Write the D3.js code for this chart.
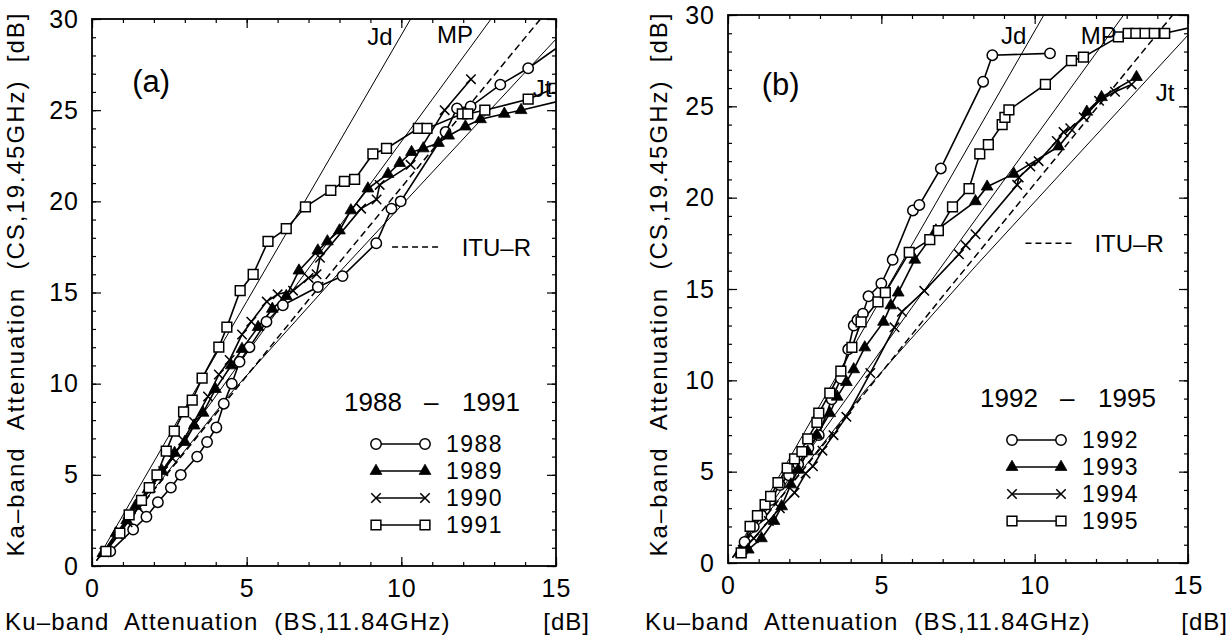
<!DOCTYPE html>
<html>
<head>
<meta charset="utf-8">
<script src="https://cdn.jsdelivr.net/npm/d3@7"></script>
<style>
  body { margin: 0; background: #fff; }
  svg { font-family: "Liberation Sans", Arial, sans-serif; }
</style>
</head>
<body>
<svg id="chart" width="1231" height="637"></svg>
<script>
// tick values
const xMajor = [0, 5, 10, 15];
const yMajor = [0, 5, 10, 15, 20, 25, 30];

// model lines
const jdLine  = [[0.15, 0.3], [5, 14.5], [10.3, 30]];
const mpLine  = [[0.15, 0.3], [6, 14.0], [12.9, 30]];
const ituLine = [[0.15, 0.3], [7, 14.6], [14.5, 30]];
const jtLine  = [[0.15, 0.3], [4.5, 9.5], [8.1, 16.3], [15, 28.9]];

// panel (a) 1988 - 1991
const s1988 = [[0.59,0.8],[1.33,2.0],[1.76,2.7],[2.13,3.5],[2.55,4.3],[2.87,5.0],[3.4,6.0],[3.72,6.8],[4.02,7.6],[4.26,8.9],[4.52,10.0],[4.77,11.2],[5.09,12.0],[5.64,13.4],[6.17,14.3],[7.3,15.3],[8.1,15.9],[9.19,17.7],[9.68,19.6],[9.98,20.0],[11.43,23.8],[11.8,25.1],[12.24,25.2],[13.2,26.4],[14.1,27.3],[15.6,29.1]];
const s1989 = [[0.35,0.7],[0.78,1.8],[1.12,2.5],[1.41,3.3],[1.81,4.2],[2.27,5.2],[2.67,6.2],[3.0,6.8],[3.3,7.7],[3.59,8.4],[3.99,9.7],[4.5,11.0],[4.85,11.9],[5.37,13.1],[5.83,14.1],[6.28,14.8],[6.69,16.2],[7.3,17.3],[7.61,17.8],[8.0,18.4],[8.37,19.5],[8.92,20.7],[9.57,21.5],[9.95,22.1],[10.33,22.7],[10.71,22.9],[11.2,23.2],[11.53,23.6],[12.07,24.1],[12.56,24.5],[13.33,24.8],[13.87,25.0],[15.6,25.7]];
const s1990 = [[0.4,0.75],[0.85,1.7],[1.15,2.4],[1.5,3.2],[1.9,4.3],[2.3,5.2],[2.6,5.9],[2.95,6.9],[3.3,7.9],[3.75,9.3],[4.1,10.5],[4.45,11.3],[4.85,12.7],[5.15,13.4],[5.65,14.5],[6.0,14.9],[6.5,15.1],[7.0,15.8],[7.26,16.0],[7.37,16.9],[8.7,19.6],[9.2,20.1],[9.3,20.9],[10.3,22.0],[11.4,25.0],[12.25,26.7]];
const s1991 = [[0.45,0.8],[0.9,1.8],[1.2,2.8],[1.6,3.6],[1.85,4.3],[2.1,5.0],[2.4,6.3],[2.66,7.4],[2.96,8.45],[3.24,9.1],[3.56,10.3],[4.1,12.0],[4.36,13.1],[4.79,15.1],[5.21,16.0],[5.69,17.8],[6.28,18.5],[6.9,19.7],[7.72,20.6],[8.16,21.1],[8.49,21.2],[9.08,22.6],[9.52,22.9],[10.55,24.0],[10.83,24.0],[11.97,24.8],[12.15,24.8],[12.7,25.0],[14.1,25.6],[14.95,26.2]];

// panel (b) 1992 - 1995
const s1992 = [[0.54,1.15],[0.84,1.98],[1.09,2.6],[1.39,3.44],[1.69,4.27],[1.99,4.8],[2.29,5.4],[2.62,6.3],[2.96,7.0],[3.38,8.96],[3.68,10.1],[3.92,11.7],[4.1,13.0],[4.22,13.3],[4.4,13.65],[4.58,14.6],[5.0,15.3],[5.37,16.6],[6.03,19.3],[6.24,19.6],[6.94,21.6],[8.32,26.35],[8.62,27.8],[10.5,27.9]];
const s1993 = [[0.42,0.52],[0.66,0.73],[1.09,1.35],[1.5,2.3],[1.75,3.1],[2.05,4.3],[2.29,5.1],[2.6,6.1],[2.9,7.0],[3.32,8.2],[3.56,9.1],[3.86,9.9],[4.1,10.6],[4.46,11.8],[5.07,13.2],[5.31,14.1],[5.55,14.8],[6.09,16.6],[6.78,18.2],[8.07,19.8],[8.45,20.6],[9.32,21.3],[10.78,22.8],[11.7,24.7],[12.18,25.5],[13.32,26.6]];
const s1994 = [[0.48,0.73],[0.84,1.35],[1.33,2.3],[1.69,3.0],[2.17,3.85],[2.53,4.9],[2.77,5.3],[3.08,6.15],[3.44,7.0],[3.86,8.0],[4.64,10.4],[5.43,12.9],[5.67,13.75],[6.4,14.9],[7.53,16.9],[7.75,17.4],[8.07,18.0],[9.43,20.7],[9.48,21.1],[9.86,21.7],[10.13,22.0],[10.72,23.1],[10.94,23.6],[11.16,23.8],[11.6,24.4],[12.1,25.3],[12.62,25.8],[13.16,26.2]];
const s1995 = [[0.43,0.55],[0.72,2.0],[0.96,2.6],[1.21,3.2],[1.39,3.65],[1.63,4.4],[1.93,5.2],[2.17,5.7],[2.41,6.1],[2.6,6.8],[2.9,7.7],[2.96,8.2],[3.32,9.3],[3.68,10.5],[4.04,11.8],[4.34,13.2],[4.89,14.3],[5.13,14.8],[5.91,17.0],[6.58,17.7],[6.86,18.2],[7.32,19.5],[7.86,20.5],[8.21,22.4],[8.49,22.9],[8.94,24.0],[9.03,24.4],[9.16,24.8],[10.35,26.2],[11.2,27.5],[11.59,27.7],[12.73,28.8],[13.05,29.0],[13.3,29.0],[13.6,29.0],[13.9,29.0],[14.24,29.0],[15.6,29.5]];

class AttenPanel {

  constructor(config, data) {
    this.config = {
      parent: config.parent,
      left: config.left,
      top: config.top,
      width: config.width,
      height: config.height,
      tag: config.tag || '',
      years: config.years || ['', ''],
      labels: config.labels
    }
    this.data = data;
    this.init()
  }

  init() {
    let self = this
    const c = self.config

    self.g = d3.select(c.parent).append('g')
      .attr('transform', `translate(${c.left},${c.top})`);

    self.x = d3.scaleLinear().domain([0, 15]).range([0, c.width]);
    self.y = d3.scaleLinear().domain([0, 30]).range([c.height, 0]);

    const clipId = 'clip' + c.tag.replace(/\W/g, '');
    self.g.append('clipPath').attr('id', clipId)
      .append('rect').attr('width', c.width).attr('height', c.height);
    self.plot = self.g.append('g').attr('clip-path', `url(#${clipId})`);

    self.line = d3.line().x(d => self.x(d[0])).y(d => self.y(d[1]));
  }

  render() {
    let self = this
    const c = self.config

    // ticks, all pointing inward
    const minorX = d3.range(0, 16), minorY = d3.range(0, 31);
    const axes = [
      [d3.axisBottom(self.x).tickValues(minorX).tickSize(-4).tickFormat(''), `translate(0,${c.height})`],
      [d3.axisTop(self.x).tickValues(minorX).tickSize(-4).tickFormat(''), null],
      [d3.axisLeft(self.y).tickValues(minorY).tickSize(-4).tickFormat(''), null],
      [d3.axisRight(self.y).tickValues(minorY).tickSize(-4).tickFormat(''), `translate(${c.width},0)`],
      [d3.axisBottom(self.x).tickValues(xMajor).tickSize(-9).tickPadding(13), `translate(0,${c.height})`],
      [d3.axisTop(self.x).tickValues(xMajor).tickSize(-9).tickFormat(''), null],
      [d3.axisLeft(self.y).tickValues(yMajor).tickSize(-9).tickPadding(13), null],
      [d3.axisRight(self.y).tickValues(yMajor).tickSize(-9).tickFormat(''), `translate(${c.width},0)`]
    ];
    axes.forEach(([ax, tr]) => {
      const ag = self.g.append('g').call(ax);
      if (tr) ag.attr('transform', tr);
      ag.select('.domain').remove();
      ag.selectAll('line').attr('stroke', '#000').attr('stroke-width', 1.2);
      ag.selectAll('text').attr('fill', '#000').style('font-size', '25px')
        .style('letter-spacing', '1px')
        .attr('font-family', '"Liberation Sans", Arial, sans-serif');
    });

    self.g.append('rect')
      .attr('width', c.width).attr('height', c.height)
      .attr('fill', 'none').attr('stroke', '#000').attr('stroke-width', 1.8);

    // model lines
    const models = [
      {v: jdLine, dash: null}, {v: mpLine, dash: null},
      {v: jtLine, dash: null}, {v: ituLine, dash: '7,4'}
    ];
    self.plot.selectAll('.model')
      .data(models)
      .enter().append('path')
      .attr('class', 'model')
      .attr('d', d => self.line(d.v))
      .attr('fill', 'none')
      .attr('stroke', '#000')
      .attr('stroke-width', d => d.dash ? 1.5 : 1.0)
      .attr('stroke-dasharray', d => d.dash);

    // data series
    self.data.forEach(s => {
      self.plot.append('path')
        .attr('d', self.line(s.values))
        .attr('fill', 'none')
        .attr('stroke', '#000')
        .attr('stroke-width', 1.6);
    });
    self.data.forEach(s => {
      self.plot.selectAll(null)
        .data(s.values)
        .enter().append('path')
        .attr('transform', d => `translate(${self.x(d[0])},${self.y(d[1])})`)
        .call(sel => self.marker(sel, s.symbol));
    });

    // labels on the model lines
    c.labels.forEach(l => {
      self.g.append('text')
        .attr('x', self.x(l.x)).attr('y', self.y(l.y))
        .style('font-size', l.size + 'px')
        .text(l.text);
    });

    // ITU-R key
    self.g.append('line')
      .attr('x1', self.x(9.7)).attr('x2', self.x(11.25))
      .attr('y1', self.y(17.5)).attr('y2', self.y(17.5))
      .attr('stroke', '#000').attr('stroke-width', 1.5).attr('stroke-dasharray', '6,4');
    self.g.append('text')
      .attr('x', self.x(11.95)).attr('y', self.y(17.5)).attr('dy', '0.36em')
      .style('font-size', '24px')
      .text('ITU–R');

    // year legend
    const lx = 252, ly = 392;
    self.g.append('text').attr('x', lx).attr('y', ly).style('font-size', '26px').text(c.years[0]);
    self.g.append('text').attr('x', lx + 80).attr('y', ly).style('font-size', '26px').text('–');
    self.g.append('text').attr('x', lx + 118).attr('y', ly).style('font-size', '26px').text(c.years[1]);

    const rows = self.g.selectAll('.leg')
      .data(self.data)
      .enter().append('g')
      .attr('class', 'leg')
      .attr('transform', (d, i) => `translate(0,${425 + i * 27})`);
    rows.append('line')
      .attr('x1', 284).attr('x2', 333)
      .attr('stroke', '#000').attr('stroke-width', 1.6);
    rows.each(function(d) {
      d3.select(this).selectAll(null)
        .data([284, 333])
        .enter().append('path')
        .attr('transform', v => `translate(${v},0)`)
        .call(sel => self.marker(sel, d.symbol));
    });
    rows.append('text')
      .attr('x', 354).attr('dy', '0.36em')
      .style('font-size', '23px')
      .style('letter-spacing', '1.5px')
      .text(d => d.name);
  }

  marker(sel, kind) {
    if (kind === 'circle') {
      sel.attr('d', d3.symbol(d3.symbolCircle, 85)())
        .attr('fill', '#fff').attr('stroke', '#000').attr('stroke-width', 1.5);
    } else if (kind === 'triangle') {
      sel.attr('d', d3.symbol(d3.symbolTriangle, 60)())
        .attr('fill', '#000').attr('stroke', '#000').attr('stroke-width', 0.8);
    } else if (kind === 'cross') {
      sel.attr('d', d3.symbol(d3.symbolTimes, 60)())
        .attr('fill', 'none').attr('stroke', '#000').attr('stroke-width', 1.5);
    } else {
      sel.attr('d', d3.symbol(d3.symbolSquare, 95)())
        .attr('fill', '#fff').attr('stroke', '#000').attr('stroke-width', 1.5);
    }
  }
}

const svg = d3.select('#chart');

const panelA = new AttenPanel({
  parent: '#chart', left: 92, top: 19, width: 464, height: 547, tag: '(a)',
  years: ['1988', '1991'],
  labels: [
    {text: '(a)', x: 1.3, y: 26.0, size: 31},
    {text: 'Jd', x: 8.9, y: 28.6, size: 24},
    {text: 'MP', x: 11.15, y: 28.7, size: 24},
    {text: 'Jt', x: 14.25, y: 25.7, size: 24}
  ]
}, [
  {name: '1988', symbol: 'circle', values: s1988},
  {name: '1989', symbol: 'triangle', values: s1989},
  {name: '1990', symbol: 'cross', values: s1990},
  {name: '1991', symbol: 'square', values: s1991}
]);
panelA.render();

const panelB = new AttenPanel({
  parent: '#chart', left: 728, top: 15, width: 460, height: 548, tag: '(b)',
  years: ['1992', '1995'],
  labels: [
    {text: '(b)', x: 1.1, y: 25.6, size: 31},
    {text: 'Jd', x: 8.9, y: 28.4, size: 24},
    {text: 'MP', x: 11.5, y: 28.4, size: 24},
    {text: 'Jt', x: 13.95, y: 25.3, size: 24}
  ]
}, [
  {name: '1992', symbol: 'circle', values: s1992},
  {name: '1993', symbol: 'triangle', values: s1993},
  {name: '1994', symbol: 'cross', values: s1994},
  {name: '1995', symbol: 'square', values: s1995}
]);
panelB.render();

// axis titles
const yTitle = 'Ka–band  Attenuation  (CS,19.45GHz)  [dB]';
const xTitle = 'Ku–band  Attenuation  (BS,11.84GHz)';
[[24, 284], [667, 284]].forEach(([x, y]) => {
  svg.append('text')
    .attr('transform', `translate(${x},${y}) rotate(-90)`)
    .attr('text-anchor', 'middle')
    .style('font-size', '24px')
    .style('letter-spacing', '2px')
    .style('white-space', 'pre')
    .text(yTitle);
});
[[5, 590], [645, 1228]].forEach(([x0, x1]) => {
  svg.append('text')
    .attr('x', x0).attr('y', 630)
    .style('font-size', '24px')
    .style('letter-spacing', '1.2px')
    .style('white-space', 'pre')
    .text(xTitle);
  svg.append('text')
    .attr('x', x1).attr('y', 630)
    .attr('text-anchor', 'end')
    .style('font-size', '24px')
    .style('letter-spacing', '1px')
    .text('[dB]');
});
</script>
</body>
</html>
